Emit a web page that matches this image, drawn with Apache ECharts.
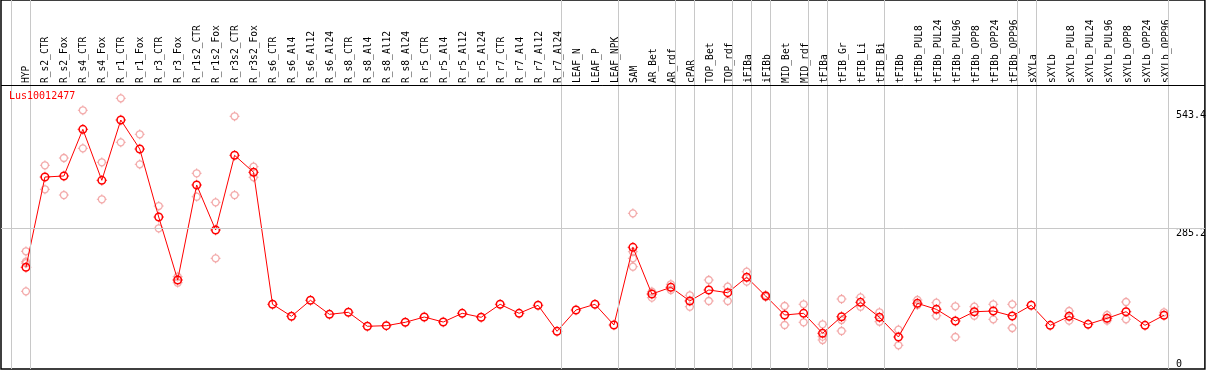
<!DOCTYPE html>
<html><head><meta charset="utf-8">
<script src="https://cdn.jsdelivr.net/npm/echarts@6/dist/echarts.min.js"></script>
<style>html,body{margin:0;padding:0;background:#fff}#c{width:1209px;height:370px}</style>
</head><body><div id="c"></div>
<script>
const categories = ["HYP","R_s2_CTR","R_s2_Fox","R_s4_CTR","R_s4_Fox","R_r1_CTR","R_r1_Fox","R_r3_CTR","R_r3_Fox","R_r1s2_CTR","R_r1s2_Fox","R_r3s2_CTR","R_r3s2_Fox","R_s6_CTR","R_s6_Al4","R_s6_Al12","R_s6_Al24","R_s8_CTR","R_s8_Al4","R_s8_Al12","R_s8_Al24","R_r5_CTR","R_r5_Al4","R_r5_Al12","R_r5_Al24","R_r7_CTR","R_r7_Al4","R_r7_Al12","R_r7_Al24","LEAF_N","LEAF_P","LEAF_NPK","SAM","AR_Bet","AR_rdf","cPAR","TOP_Bet","TOP_rdf","iFIBa","iFIBb","MID_Bet","MID_rdf","tFIBa","tFIB_Gr","tFIB_Li","tFIB_Bi","tFIBb","tFIBb_PUL8","tFIBb_PUL24","tFIBb_PUL96","tFIBb_OPP8","tFIBb_OPP24","tFIBb_OPP96","sXYLa","sXYLb","sXYLb_PUL8","sXYLb_PUL24","sXYLb_PUL96","sXYLb_OPP8","sXYLb_OPP24","sXYLb_OPP96"];
const means = [200.1,397.1,399.3,501.2,389.9,521.5,458.2,309.8,172.4,379.7,281.5,444.5,407.4,119.4,93.2,128.1,97.5,101.9,71.4,72.7,80.1,91.6,80.7,99.7,91.0,119.4,99.7,117.2,60.4,106.9,119.4,74.2,243.7,141.8,156.4,126.6,150.6,144.7,178.3,137.5,96.0,99.7,56.1,92.3,123.7,91.0,48.0,121.5,108.4,82.9,103.2,104.7,93.8,117.2,73.5,93.2,75.7,88.8,103.2,73.5,95.4];
const rep1 = [235.0,422.7,438.6,542.7,429.2,568.8,490.3,333.8,179.6,405.2,341.9,529.6,419.6,null,null,null,null,null,null,null,null,null,null,null,null,null,null,null,null,null,null,null,317.9,146.9,163.0,139.0,172.4,157.8,190.5,139.5,115.6,119.4,75.7,130.9,134.6,101.9,63.9,128.7,122.8,115.0,114.1,119.4,119.4,null,null,104.7,null,96.0,124.4,null,101.9];
const rep2 = [147.7,370.3,357.8,459.7,348.5,472.8,424.8,285.2,166.5,354.1,219.7,357.8,396.5,null,null,null,null,null,null,null,null,null,null,null,null,null,null,null,null,null,null,null,201.4,133.8,150.6,114.1,126.6,126.6,168.7,135.5,74.2,80.1,41.5,61.1,114.1,81.4,29.9,117.8,94.5,48.0,94.5,86.6,67.6,null,null,83.6,null,83.6,86.6,null,null];
const rep3 = [212.3,null,null,null,null,null,null,null,null,null,null,null,null,null,null,null,null,null,null,null,null,null,null,null,null,null,null,null,null,null,null,null,234.1,null,null,null,null,null,null,null,null,null,48.7,85.1,null,null,null,null,null,null,null,null,null,null,null,null,null,null,null,null,null];
const rep4 = [209.0,null,null,null,null,null,null,null,null,null,null,null,null,null,null,null,null,null,null,null,null,null,null,null,null,null,null,null,null,null,null,null,219.7,null,null,null,null,null,null,null,null,null,null,null,null,null,null,null,null,null,null,null,null,null,null,null,null,null,null,null,null];
const yTickLabels = [0, 285.2, 543.4];
const refLineValue = 285.2;
const groupEnds = [0,28,31,34,35,37,38,39,41,42,45,52,53,60];
const geneName = "Lus10012477";

// layout (pixels)
const W = 1206, H = 369, colW = 19, firstX = 26, gridL = 1;
const zeroY = 359, refY = 228.3, headerY = 85;
const k = (zeroY - refY) / refLineValue;
const xMin = -(firstX - gridL) / colW, xMax = xMin + W / colW;
const yMin = -(H - zeroY) / k, yMax = zeroY / k;
const headerVal = (zeroY - headerY) / k;

const meanData = means.map((v, i) => [i, v]);
const repData = [];
[rep1, rep2, rep3, rep4].forEach(arr => arr.forEach((v, i) => { if (v != null) repData.push([i, v]); }));

const sepLines = [{ xAxis: (11 - firstX) / colW }].concat(groupEnds.map(i => ({ xAxis: i + 4.5 / colW })));
const ticks = 'path://M5 0V1.6M5 8.4V10M0 5H1.6M8.4 5H10';
const mono = 'DejaVu Sans Mono';
const red = '#ff0000', pale = '#f09898';

const chart = echarts.init(document.getElementById('c'), null, { renderer: 'canvas' });
chart.setOption({
  animation: false,
  backgroundColor: '#fff',
  title: { text: geneName, left: 9, top: 91, padding: 0,
    textStyle: { color: red, fontSize: 10, fontFamily: mono, fontWeight: 'normal' } },
  grid: [
    { left: gridL, top: 0, width: W, height: H, show: true, borderColor: '#000', borderWidth: 1.5, containLabel: false },
    { left: firstX - colW / 2, top: headerY, width: colW * categories.length, height: 1 }
  ],
  xAxis: [
    { gridIndex: 0, type: 'value', min: xMin, max: xMax, show: false },
    { gridIndex: 1, type: 'category', position: 'top', data: categories,
      axisLine: { show: false }, axisTick: { show: false }, splitLine: { show: false },
      axisLabel: { interval: 0, rotate: 90, margin: 2, color: '#000', fontFamily: mono, fontSize: 9.6 } }
  ],
  yAxis: [
    { gridIndex: 0, type: 'value', min: yMin, max: yMax, position: 'right', offset: -(gridL + W - 1174),
      axisLine: { show: false }, axisTick: { show: false }, splitLine: { show: false },
      axisLabel: { customValues: yTickLabels, margin: 4, verticalAlign: 'top', color: '#000', fontFamily: mono, fontSize: 10,
        formatter: v => String(v) } },
    { gridIndex: 1, type: 'value', show: false }
  ],
  series: [
    { type: 'line', data: [], xAxisIndex: 0, yAxisIndex: 0, silent: true,
      markLine: { silent: true, symbol: 'none', label: { show: false }, animation: false,
        lineStyle: { color: '#c8c8c8', width: 1, type: 'solid' },
        data: sepLines.concat([{ yAxis: refLineValue }, { yAxis: headerVal, lineStyle: { color: '#000', width: 1 } }]) } },
    { type: 'scatter', data: repData, symbol: ticks, symbolSize: 10, silent: true,
      itemStyle: { color: 'none', borderColor: pale, borderWidth: 1 } },
    { type: 'scatter', data: repData, symbol: 'circle', symbolSize: 7, silent: true,
      itemStyle: { color: 'rgba(255,255,255,0)', borderColor: pale, borderWidth: 1.3 } },
    { type: 'scatter', data: meanData, symbol: ticks, symbolSize: 10.5, silent: true, z: 3,
      itemStyle: { color: 'none', borderColor: red, borderWidth: 1 } },
    { type: 'line', data: meanData, symbol: 'circle', symbolSize: 7.5, showAllSymbol: true, silent: true, z: 4,
      lineStyle: { color: red, width: 1 },
      itemStyle: { color: 'rgba(255,255,255,0)', borderColor: red, borderWidth: 1.5 } }
  ]
});
</script></body></html>
